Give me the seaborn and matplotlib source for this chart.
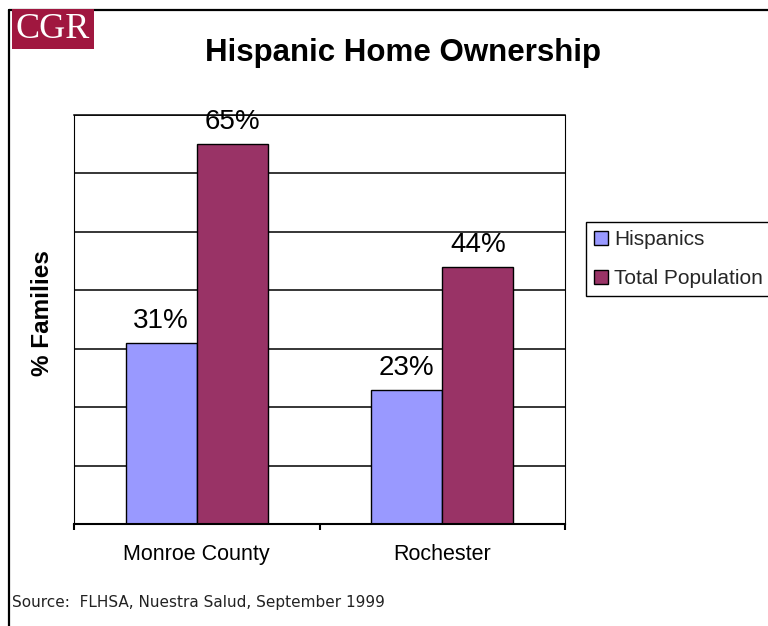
import matplotlib
matplotlib.use("Agg")
import matplotlib.pyplot as plt
from matplotlib.patches import Patch
from matplotlib.lines import Line2D
from matplotlib.ticker import FixedLocator, MultipleLocator
import seaborn as sns
import pandas as pd

# Home ownership rates (% of families)
areas = ["Monroe County", "Rochester"]
groups = ["Hispanics", "Total Population"]
hispanics = [31, 23]
total_population = [65, 44]

colors = {"Hispanics": "#9999FF", "Total Population": "#993366"}

df = pd.DataFrame({
    "area": areas * 2,
    "group": [groups[0]] * len(areas) + [groups[1]] * len(areas),
    "pct": hispanics + total_population,
})

sns.set_theme(style="white")
plt.rcParams["font.family"] = ["Liberation Sans", "DejaVu Sans"]

fig = plt.figure(figsize=(7.68, 6.26), dpi=100)
ax = fig.add_axes([74 / 768, 1 - 524 / 626, 491 / 768, 409 / 626])

sns.barplot(data=df, x="area", y="pct", hue="group", order=areas,
            hue_order=groups, palette=colors, width=0.58, gap=0,
            edgecolor="black", linewidth=1.0, saturation=1, ax=ax,
            legend=False)

ax.set_xlim(-0.5, 1.5)
ax.set_ylim(0, 70)
ax.yaxis.set_major_locator(MultipleLocator(10))
ax.set_yticklabels([])
ax.tick_params(axis="y", length=0)
ax.grid(axis="y", color="black", linewidth=1.1)
ax.set_axisbelow(True)

# category labels at centres, tick marks at category boundaries
ax.tick_params(axis="x", which="major", length=0, pad=14.5, labelsize=15.5,
               labelcolor="black")
ax.xaxis.set_minor_locator(FixedLocator([-0.5, 0.5, 1.5]))
ax.tick_params(axis="x", which="minor", length=4, width=1.5, color="black",
               direction="out", bottom=True)
ax.set_xlabel("")

for side in ["left", "right", "top", "bottom"]:
    ax.spines[side].set_visible(True)
    ax.spines[side].set_color("black")
ax.spines["left"].set_linewidth(0.8)
ax.spines["right"].set_linewidth(0.8)
ax.spines["top"].set_linewidth(1.1)
ax.spines["bottom"].set_linewidth(1.5)

for cont in ax.containers:
    vals = [b.get_height() for b in cont]
    ax.bar_label(cont, labels=[f"{v:.0f}%" for v in vals], padding=6.5,
                 fontsize=20, color="black")

ax.set_ylabel("% Families", fontsize=17.5, fontweight="bold", color="black")
ax.yaxis.set_label_coords(-0.04, 0.515)

handles = [Patch(facecolor=colors[g], edgecolor="black", linewidth=1.0, label=g)
           for g in groups]
leg = fig.legend(handles=handles, loc="upper left",
                 bbox_to_anchor=(586 / 768, 1 - 222 / 626), fontsize=15,
                 frameon=True, fancybox=False, framealpha=1, edgecolor="black",
                 handlelength=0.65, handleheight=0.65, handletextpad=0.3,
                 labelspacing=0.95, borderpad=0.4, borderaxespad=0)
leg.get_frame().set_linewidth(1.0)

fig.text(403 / 768, 1 - 53 / 626, "Hispanic Home Ownership", ha="center",
         va="center", fontsize=22.5, fontweight="bold", color="black")

fig.text(12 / 768, 1 - 603 / 626, "Source:  FLHSA, Nuestra Salud, September 1999",
         ha="left", va="center", fontsize=11, family="DejaVu Sans",
         color="#222222")

# CGR badge
fig.text(53 / 768, 1 - 29 / 626, "CGR", ha="center", va="center",
         fontsize=26, family="Liberation Serif", color="white",
         bbox=dict(boxstyle="square,pad=0.1", facecolor="#A0173F",
                   edgecolor="none"))

# page frame lines
fig.add_artist(Line2D([8.5 / 768, 1], [1 - 10 / 626, 1 - 10 / 626],
                      transform=fig.transFigure, color="black", linewidth=1.6))
fig.add_artist(Line2D([8.5 / 768, 8.5 / 768], [1 - 10 / 626, 0],
                      transform=fig.transFigure, color="black", linewidth=1.6))

fig.savefig("out.png", dpi=100, facecolor="white")
